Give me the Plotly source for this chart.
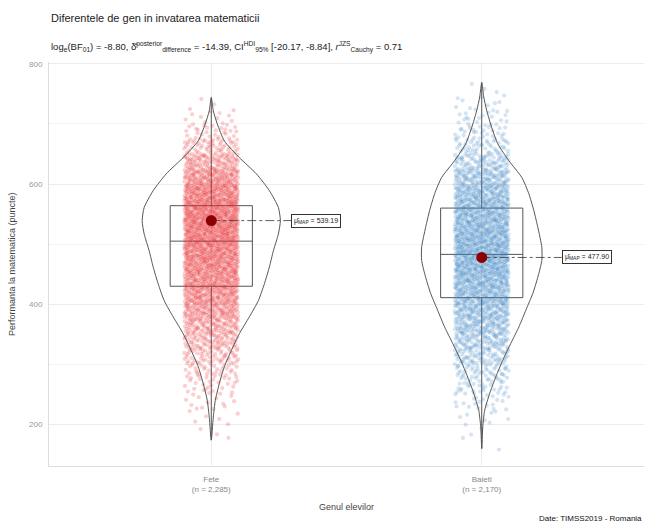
import plotly.graph_objects as go

# ---------------- data ----------------
categories = ["Fete", "Baieti"]
n_labels = ["(n = 2,285)", "(n = 2,170)"]
means = [539.19, 477.90]

# box statistics
q1 = [430, 411]
medians = [505, 483]
q3 = [564, 560]
lower_fence = [174, 160]
upper_fence = [744, 769]

# estimated counts of students per 25-point score bin (lower bin edges)
fete_bin_lo = [175, 200, 225, 250, 275, 300, 325, 350, 375, 400, 425, 450,
               475, 500, 525, 550, 575, 600, 625, 650, 675, 700, 725]
fete_counts = [3, 6, 12, 22, 37, 56, 78, 100, 128, 149, 168, 181,
               193, 205, 213, 205, 184, 146, 100, 56, 28, 12, 3]
baieti_bin_lo = [150, 175, 200, 225, 250, 275, 300, 325, 350, 375, 400, 425,
                 450, 475, 500, 525, 550, 575, 600, 625, 650, 675, 700, 725, 750]
baieti_counts = [1, 3, 8, 19, 34, 50, 72, 93, 115, 131, 153, 168,
                 184, 186, 181, 168, 159, 143, 115, 78, 47, 31, 19, 9, 3]

# violin outline: score levels and relative density (half-width)
fete_violin_y = [174, 212, 240, 268, 296, 323, 351, 379, 406, 434, 462, 489,
                 517, 539, 561, 589, 617, 644, 672, 700, 722, 744]
fete_violin_d = [0, 2, 4, 8, 13, 20, 28, 38, 47, 53, 58, 62,
                 67, 69, 67, 58, 45, 28, 13, 6, 2, 0]
baieti_violin_y = [160, 196, 224, 252, 279, 307, 335, 362, 390, 418, 445, 473,
                   495, 528, 556, 584, 611, 639, 667, 694, 722, 745, 769]
baieti_violin_d = [0, 1, 3, 8, 14, 21, 29, 37, 44, 51, 56, 60,
                   60, 56, 52, 47, 40, 27, 16, 10, 5, 2, 0]

# ---------------- styling ----------------
BIN_W = 25
JITTER = 0.1
VIOLIN_SCALE = 1 / 270.0
BOX_W = 0.304
point_colors = ["rgba(232,40,44,0.22)", "rgba(60,130,195,0.22)"]
line_col = "#555555"

fig = go.Figure()


def halton(i, base):
    f, r = 1.0, 0.0
    while i > 0:
        f /= base
        r += f * (i % base)
        i //= base
    return r


def cloud(center, bins, counts, offset):
    # piecewise-linear inverse CDF of the binned counts (jitter layout from a Halton sequence)
    total = sum(counts)
    cum = [0]
    for c in counts:
        cum.append(cum[-1] + c)
    xs, ys = [], []
    for j in range(total):
        u = halton(j + offset, 2)
        p = halton(j + offset, 3) * total
        b = 0
        while b < len(counts) - 1 and cum[b + 1] <= p:
            b += 1
        frac = (p - cum[b]) / counts[b] if counts[b] else 0.5
        ys.append(bins[b] + frac * BIN_W)
        xs.append(center + (2 * u - 1) * JITTER)
    return xs, ys


for i, (bins, counts) in enumerate([(fete_bin_lo, fete_counts),
                                    (baieti_bin_lo, baieti_counts)]):
    xs, ys = cloud(i + 1, bins, counts, 37 + 911 * i)
    fig.add_trace(go.Scatter(x=xs, y=ys, mode="markers",
                             marker=dict(size=4.2, color=point_colors[i], line=dict(width=0)),
                             hoverinfo="skip", showlegend=False))

for i in range(2):
    fig.add_trace(go.Box(x=[i + 1], q1=[q1[i]], median=[medians[i]], q3=[q3[i]],
                         lowerfence=[lower_fence[i]], upperfence=[upper_fence[i]],
                         width=BOX_W, whiskerwidth=0, fillcolor="rgba(0,0,0,0)",
                         line=dict(color=line_col, width=1), boxpoints=False,
                         showlegend=False, hoverinfo="skip"))

for i, (vy, vd) in enumerate([(fete_violin_y, fete_violin_d),
                              (baieti_violin_y, baieti_violin_d)]):
    c = i + 1
    left_x = [c - d * VIOLIN_SCALE for d in vd]
    right_x = [c + d * VIOLIN_SCALE for d in vd]
    xs = left_x + right_x[::-1][1:]
    ys = vy + vy[::-1][1:]
    fig.add_trace(go.Scatter(x=xs, y=ys, mode="lines",
                             line=dict(color=line_col, width=1, shape="spline", smoothing=0.6),
                             hoverinfo="skip", showlegend=False))

for i in range(2):
    c = i + 1
    fig.add_trace(go.Scatter(x=[c, c + 0.296], y=[means[i], means[i]], mode="lines",
                             line=dict(color="#333333", width=0.8, dash="dashdot"),
                             hoverinfo="skip", showlegend=False))
    fig.add_trace(go.Scatter(x=[c], y=[means[i]], mode="markers",
                             marker=dict(size=11, color="#8B0000"),
                             hoverinfo="skip", showlegend=False))
    fig.add_annotation(x=c + 0.296, y=means[i], xref="x", yref="y",
                       text="μ̂<sub>MAP</sub> = %.2f" % means[i], showarrow=False,
                       xanchor="left", yanchor="middle",
                       font=dict(size=7, color="#222222", family="Liberation Sans, Arial, sans-serif"),
                       bgcolor="white", bordercolor="#333333", borderwidth=1, borderpad=2)

# titles / texts
fig.add_annotation(x=0, y=1.109, xref="paper", yref="paper",
                   text="Diferentele de gen in invatarea matematicii",
                   showarrow=False, xanchor="left", yanchor="middle",
                   font=dict(size=11, color="#222222"))
fig.add_annotation(x=0, y=1.037, xref="paper", yref="paper",
                   text="log<sub>e</sub>(BF<sub>01</sub>) = -8.80, δ̂<sup>posterior</sup><sub>difference</sub> = -14.39, "
                        "CI<sup>HDI</sup><sub>95%</sub> [-20.17, -8.84], <i>r</i><sup>JZS</sup><sub>Cauchy</sub> = 0.71",
                   showarrow=False, xanchor="left", yanchor="middle",
                   font=dict(size=9.5, color="#222222"))
fig.add_annotation(x=0.5, y=-0.101, xref="paper", yref="paper", text="Genul elevilor",
                   showarrow=False, xanchor="center", yanchor="middle",
                   font=dict(size=9, color="#444444"))
fig.add_annotation(x=-0.062, y=0.5, xref="paper", yref="paper",
                   text="Performanta la matematica (puncte)", textangle=-90,
                   showarrow=False, xanchor="center", yanchor="middle",
                   font=dict(size=9, color="#444444"))
fig.add_annotation(x=1.0, y=-0.129, xref="paper", yref="paper",
                   text="Date: TIMSS2019 - Romania", showarrow=False,
                   xanchor="right", yanchor="middle",
                   font=dict(size=8, color="#111111"))

fig.update_layout(
    width=646, height=525,
    margin=dict(l=49, r=2, t=62, b=59),
    plot_bgcolor="white", paper_bgcolor="white",
    font=dict(family="Liberation Sans, Arial, sans-serif", size=9, color="#444444"),
    showlegend=False,
    xaxis=dict(range=[0.4, 2.6], tickvals=[1, 2],
               ticktext=["%s<br>%s" % (c, n) for c, n in zip(categories, n_labels)],
               tickfont=dict(size=8, color="#888888"),
               showgrid=True, gridcolor="#ececec", gridwidth=1, zeroline=False,
               showline=True, linecolor="#dddddd", linewidth=1, ticks="",
               ticklabelstandoff=5),
    yaxis=dict(range=[131, 803], tickvals=[200, 400, 600, 800],
               tickfont=dict(size=8, color="#999999"),
               showgrid=True, gridcolor="#ececec", gridwidth=1, zeroline=False,
               minor=dict(tickvals=[300, 500, 700], showgrid=True, gridcolor="#f4f4f4", gridwidth=1),
               showline=True, linecolor="#dddddd", linewidth=1, ticks="",
               ticklabelstandoff=4),
)

fig.write_html("out.html", config={"displayModeBar": False},
               post_script="document.body.style.margin='0px';document.body.style.overflow='hidden';")
